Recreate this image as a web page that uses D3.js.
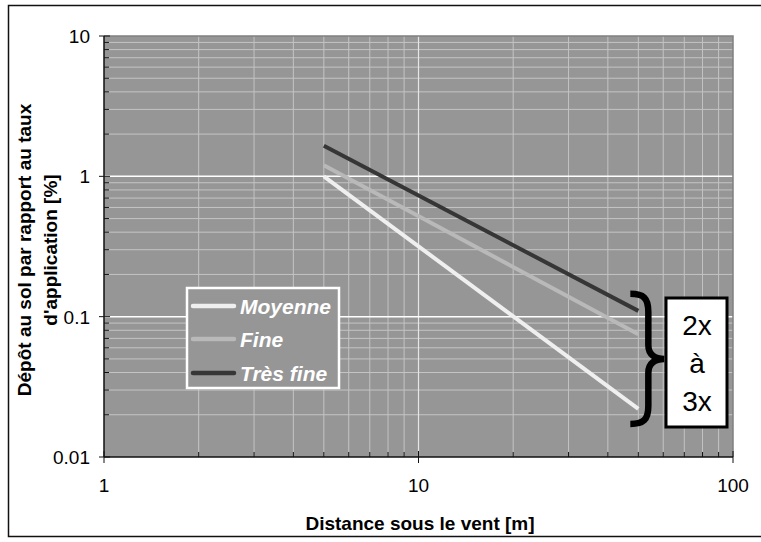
<!DOCTYPE html>
<html lang="fr">
<head>
<meta charset="utf-8">
<title>Dépôt au sol</title>
<script src="https://d3js.org/d3.v7.min.js"></script>
<style>
    body { margin: 0; background: #fff; }
    svg text { font-family: "Liberation Sans", Arial, sans-serif; }
</style>
</head>
<body>
<div id="chart"></div>
<script>
    // data
    var distances = [5, 50];
    var seriesNames = ["Moyenne", "Fine", "Très fine"];
    var moyenne = [1.0, 0.022];
    var fine = [1.2, 0.075];
    var tresFine = [1.65, 0.11];
    var seriesColors = ["#efefef", "#b9b9b9", "#363636"];
    var xTicks = [1, 10, 100];
    var yTicks = [0.01, 0.1, 1, 10];
    var bracketText = ["2x", "à", "3x"];

    var WIDTH = 761, HEIGHT = 542;
    var PL = 104, PR = 733, PT = 36, PB = 457;

    var svg = d3.select("#chart").append("svg")
        .attr("width", WIDTH)
        .attr("height", HEIGHT);

    // outer frame
    svg.append("rect")
        .attr("x", 8.5).attr("y", 5.5)
        .attr("width", 800).attr("height", 531)
        .attr("fill", "#fff").attr("stroke", "#111").attr("stroke-width", 1.5);

    var x = d3.scaleLog().domain([1, 100]).range([PL, PR]);
    var y = d3.scaleLog().domain([0.01, 10]).range([PB, PT]);

    svg.append("rect")
        .attr("x", PL).attr("y", PT)
        .attr("width", PR - PL).attr("height", PB - PT)
        .attr("fill", "#969696");

    // minor / major values
    var xAll = [], yAll = [];
    [1, 10].forEach(function (d) { for (var k = 2; k <= 9; k++) xAll.push(d * k); });
    [0.01, 0.1, 1].forEach(function (d) { for (var k = 2; k <= 9; k++) yAll.push(d * k); });

    var grid = svg.append("g");
    grid.selectAll(".vx").data(xAll).enter().append("line")
        .attr("x1", d => x(d)).attr("x2", d => x(d))
        .attr("y1", PT).attr("y2", PB)
        .attr("stroke", "#c4c4c4").attr("stroke-width", 1);
    grid.selectAll(".vy").data(yAll).enter().append("line")
        .attr("x1", PL).attr("x2", PR)
        .attr("y1", d => y(d)).attr("y2", d => y(d))
        .attr("stroke", "#c4c4c4").attr("stroke-width", 1);
    grid.append("line")
        .attr("x1", x(10)).attr("x2", x(10)).attr("y1", PT).attr("y2", PB)
        .attr("stroke", "#e6e6e6").attr("stroke-width", 1.2);
    grid.selectAll(".my").data([0.1, 1]).enter().append("line")
        .attr("x1", PL).attr("x2", PR)
        .attr("y1", d => y(d)).attr("y2", d => y(d))
        .attr("stroke", "#ffffff").attr("stroke-width", 1.5);

    // plot border (top / right)
    svg.append("path")
        .attr("d", "M" + PL + "," + PT + "H" + PR + "V" + PB)
        .attr("fill", "none").attr("stroke", "#808080").attr("stroke-width", 1.5);

    // series
    var series = [moyenne, fine, tresFine];
    var line = d3.line()
        .x(function (d, i) { return x(distances[i]); })
        .y(function (d) { return y(d); });
    svg.selectAll(".serie").data(series).enter().append("path")
        .attr("d", d => line(d))
        .attr("fill", "none")
        .attr("stroke", (d, i) => seriesColors[i])
        .attr("stroke-width", 4);

    // axes
    var yAxis = svg.append("g").attr("transform", "translate(" + PL + ",0)");
    yAxis.append("line").attr("x1", 0).attr("x2", 0).attr("y1", PT).attr("y2", PB)
        .attr("stroke", "#111").attr("stroke-width", 1.5);
    yAxis.selectAll(".mt").data(yAll).enter().append("line")
        .attr("x1", 0).attr("x2", 5).attr("y1", d => y(d)).attr("y2", d => y(d))
        .attr("stroke", "#111");
    yAxis.selectAll(".Mt").data(yTicks).enter().append("line")
        .attr("x1", -5).attr("x2", 6).attr("y1", d => y(d)).attr("y2", d => y(d))
        .attr("stroke", "#111");
    yAxis.selectAll(".lab").data(yTicks).enter().append("text")
        .attr("x", -14).attr("y", d => y(d) + 7)
        .attr("text-anchor", "end").attr("font-size", 19)
        .text(d => d3.format("~g")(d));

    var xAxis = svg.append("g").attr("transform", "translate(0," + PB + ")");
    xAxis.append("line").attr("x1", PL).attr("x2", PR).attr("y1", 0).attr("y2", 0)
        .attr("stroke", "#111").attr("stroke-width", 1.5);
    xAxis.selectAll(".mt").data(xAll).enter().append("line")
        .attr("x1", d => x(d)).attr("x2", d => x(d)).attr("y1", -5).attr("y2", 0)
        .attr("stroke", "#111");
    xAxis.selectAll(".Mt").data(xTicks).enter().append("line")
        .attr("x1", d => x(d)).attr("x2", d => x(d)).attr("y1", -6).attr("y2", 6)
        .attr("stroke", "#111");
    xAxis.selectAll(".lab").data(xTicks).enter().append("text")
        .attr("x", d => x(d)).attr("y", 35)
        .attr("text-anchor", "middle").attr("font-size", 19)
        .text(d => d);

    // axis titles
    svg.append("text")
        .attr("x", 420).attr("y", 530)
        .attr("text-anchor", "middle").attr("font-size", 19).attr("font-weight", "bold")
        .text("Distance sous le vent [m]");
    var yt = svg.append("text")
        .attr("transform", "translate(31,250) rotate(-90)")
        .attr("text-anchor", "middle").attr("font-size", 19).attr("font-weight", "bold");
    yt.append("tspan").attr("x", 0).attr("y", 0).text("Dépôt au sol par rapport au taux");
    yt.append("tspan").attr("x", 0).attr("y", 26).text("d'application [%]");

    // legend
    var lg = svg.append("g").attr("transform", "translate(187,288)");
    lg.append("rect").attr("width", 152).attr("height", 100)
        .attr("fill", "#969696").attr("stroke", "#fff").attr("stroke-width", 2.5);
    var item = lg.selectAll(".it").data(seriesNames).enter().append("g")
        .attr("transform", (d, i) => "translate(0," + [18, 51, 85][i] + ")");
    item.append("line").attr("x1", 6).attr("x2", 47)
        .attr("stroke", (d, i) => seriesColors[i]).attr("stroke-width", 4.5)
        .attr("stroke-linecap", "round");
    item.append("text").attr("x", 53).attr("y", 8)
        .attr("font-size", 21).attr("font-weight", "bold").attr("font-style", "italic")
        .attr("fill", "#fff")
        .text(d => d);

    // bracket annotation
    var bx = x(50) + 7, yTop = y(0.11) - 17, yBot = y(0.022) + 15, yMid = (yTop + yBot) / 2;
    svg.append("path")
        .attr("d", "M" + (bx - 15) + "," + yTop +
            "C" + (bx - 2) + "," + yTop + " " + (bx + 3) + "," + (yTop + 4) + " " + (bx + 3) + "," + (yTop + 18) +
            "V" + (yMid - 14) +
            "C" + (bx + 3) + "," + (yMid - 4) + " " + (bx + 10) + "," + yMid + " " + (bx + 19) + "," + yMid +
            "C" + (bx + 10) + "," + yMid + " " + (bx + 3) + "," + (yMid + 4) + " " + (bx + 3) + "," + (yMid + 14) +
            "V" + (yBot - 18) +
            "C" + (bx + 3) + "," + (yBot - 4) + " " + (bx - 2) + "," + yBot + " " + (bx - 15) + "," + yBot)
        .attr("fill", "none").attr("stroke", "#000").attr("stroke-width", 6.5);

    var box = svg.append("g").attr("transform", "translate(666,298)");
    box.append("rect").attr("width", 61).attr("height", 129)
        .attr("fill", "#fff").attr("stroke", "#000").attr("stroke-width", 3);
    box.selectAll("text").data(bracketText).enter().append("text")
        .attr("x", 31).attr("y", (d, i) => 37 + i * 38)
        .attr("text-anchor", "middle").attr("font-size", 28)
        .text(d => d);
</script>
</body>
</html>
